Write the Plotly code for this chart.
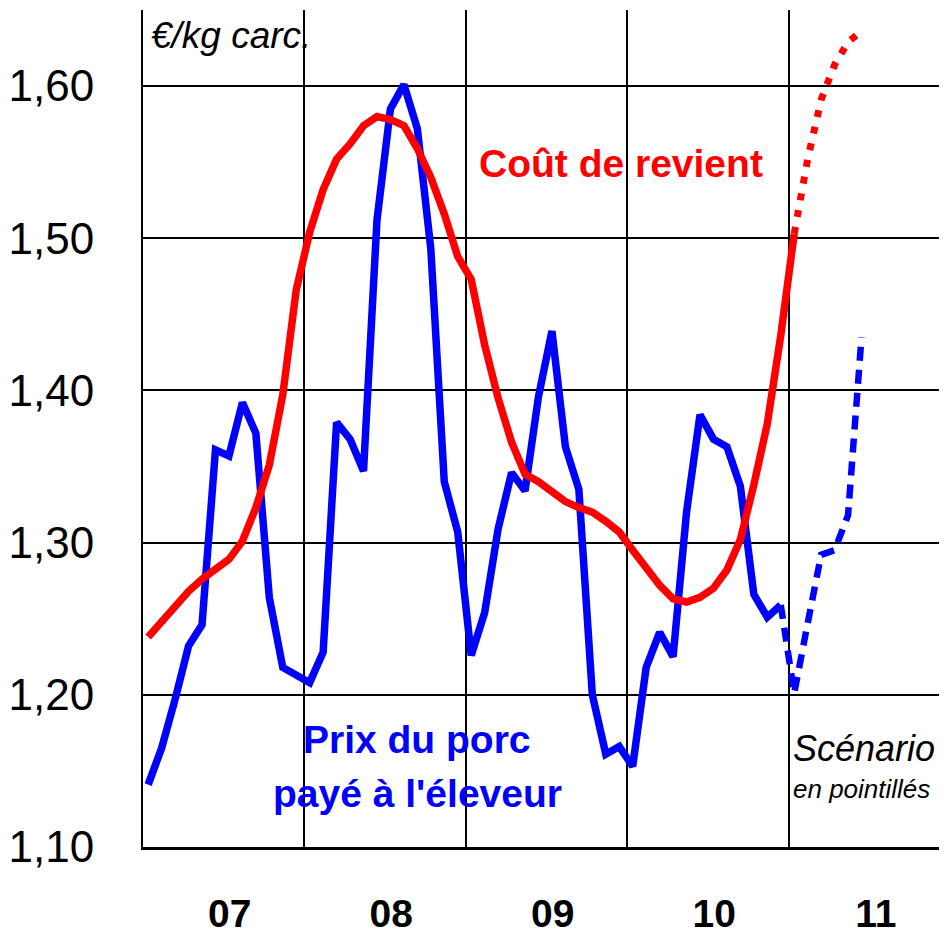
import plotly.graph_objects as go

# monthly values, Jan 2007 onwards (EUR / kg carcass)
prix_porc = [1.141, 1.165, 1.197, 1.232, 1.246, 1.361, 1.357, 1.392, 1.372, 1.264, 1.218, 1.213,
             1.208, 1.228, 1.379, 1.368, 1.347, 1.512, 1.585, 1.601, 1.572, 1.493, 1.340, 1.307,
             1.226, 1.254, 1.309, 1.346, 1.334, 1.396, 1.439, 1.363, 1.335, 1.200, 1.161, 1.166,
             1.153, 1.218, 1.241, 1.225, 1.320, 1.384, 1.368, 1.363, 1.337, 1.266, 1.251, 1.259]
prix_scenario = [1.259, 1.201, 1.247, 1.292, 1.295, 1.318, 1.435]   # Dec 2010 -> Jun 2011

cout_revient = [1.238, 1.248, 1.259, 1.268, 1.276, 1.282, 1.289, 1.301, 1.323, 1.351, 1.397, 1.466,
                1.504, 1.532, 1.552, 1.562, 1.574, 1.580, 1.578, 1.574, 1.559, 1.540, 1.516, 1.488,
                1.473, 1.430, 1.395, 1.366, 1.345, 1.340, 1.334, 1.327, 1.323, 1.320, 1.314, 1.307,
                1.295, 1.284, 1.272, 1.263, 1.261, 1.264, 1.270, 1.282, 1.302, 1.338, 1.378, 1.436,
                1.503]
cout_scenario = [1.503, 1.552, 1.591, 1.614, 1.629, 1.636]          # Jan 2011 -> Jun 2011

annees = ["07", "08", "09", "10", "11"]


def mois_x(start, n):
    # month index -> decimal year (points sit a little after the start of the month)
    return [2007 + (start + i + 0.42) / 12 for i in range(n)]


BLUE = "#0000FF"
RED = "#FF0000"
FONT = "Liberation Sans, Arial, sans-serif"

fig = go.Figure()
fig.add_trace(go.Scatter(x=mois_x(0, len(prix_porc)), y=prix_porc, mode="lines",
                         line=dict(color=BLUE, width=7.5)))
fig.add_trace(go.Scatter(x=mois_x(47, len(prix_scenario)), y=prix_scenario, mode="lines",
                         line=dict(color=BLUE, width=6.5, dash="14px,9px")))
fig.add_trace(go.Scatter(x=mois_x(0, len(cout_revient)), y=cout_revient, mode="lines",
                         line=dict(color=RED, width=7.5)))
fig.add_trace(go.Scatter(x=mois_x(48, len(cout_scenario)), y=cout_scenario, mode="lines",
                         line=dict(color=RED, width=7, dash="7px,10px")))

# white boxes hiding the grid behind the labels
for x0, x1, y0, y1 in [(0.003, 0.22, 0.932, 1.0), (0.413, 0.774, 0.777, 0.857), (0.183, 0.544, 0.024, 0.172)]:
    fig.add_shape(type="rect", xref="paper", yref="paper", x0=x0, x1=x1, y0=y0, y1=y1,
                  fillcolor="white", line_width=0, layer="between")

notes = [
    ("€/kg carc.", 0.1095, 0.9695, dict(size=37, color="black", style="italic")),
    ("Coût de revient", 0.5945, 0.817, dict(size=39, color=RED, weight="bold")),
    ("Prix du porc", 0.341, 0.128, dict(size=39, color=BLUE, weight="bold")),
    ("payé à l'éleveur", 0.341, 0.0645, dict(size=39, color=BLUE, weight="bold")),
    ("Scénario", 0.897, 0.118, dict(size=36, color="black", style="italic")),
    ("en pointillés", 0.894, 0.069, dict(size=26, color="black", style="italic")),
]
for txt, x, y, font in notes:
    fig.add_annotation(text=txt, x=x, y=y, xref="paper", yref="paper", showarrow=False,
                       xanchor="center", yanchor="middle", font=dict(family=FONT, **font))

# page body has an 8px margin, so the figure is 8px smaller than the window
fig.update_layout(
    width=939, height=928,
    margin=dict(l=135, r=0, t=2, b=89),
    paper_bgcolor="white", plot_bgcolor="white",
    showlegend=False,
    separators=", ",
)
fig.update_xaxes(
    range=[2007.003, 2011.981], automargin=False,
    tickvals=[2007.54 + i for i in range(len(annees))], ticktext=annees,
    tickfont=dict(family=FONT, size=39, color="black", weight="bold"),
    ticks="", showgrid=False, zeroline=False, ticklabelstandoff=30,
    showline=True, linecolor="black", linewidth=3,
    minor=dict(tickmode="array", tickvals=[2008, 2009, 2010, 2011], showgrid=True,
               gridcolor="black", gridwidth=2, ticks="inside", ticklen=20,
               tickwidth=2, tickcolor="black"),
)
fig.update_yaxes(
    range=[1.10, 1.65], automargin=False,
    tickvals=[1.10, 1.20, 1.30, 1.40, 1.50, 1.60], tickformat=".2f",
    tickfont=dict(family=FONT, size=44, color="black"),
    ticks="", ticklabelstandoff=38,
    showgrid=True, gridcolor="black", gridwidth=2, zeroline=False,
    showline=True, linecolor="black", linewidth=2,
)

fig.write_html("out.html")
